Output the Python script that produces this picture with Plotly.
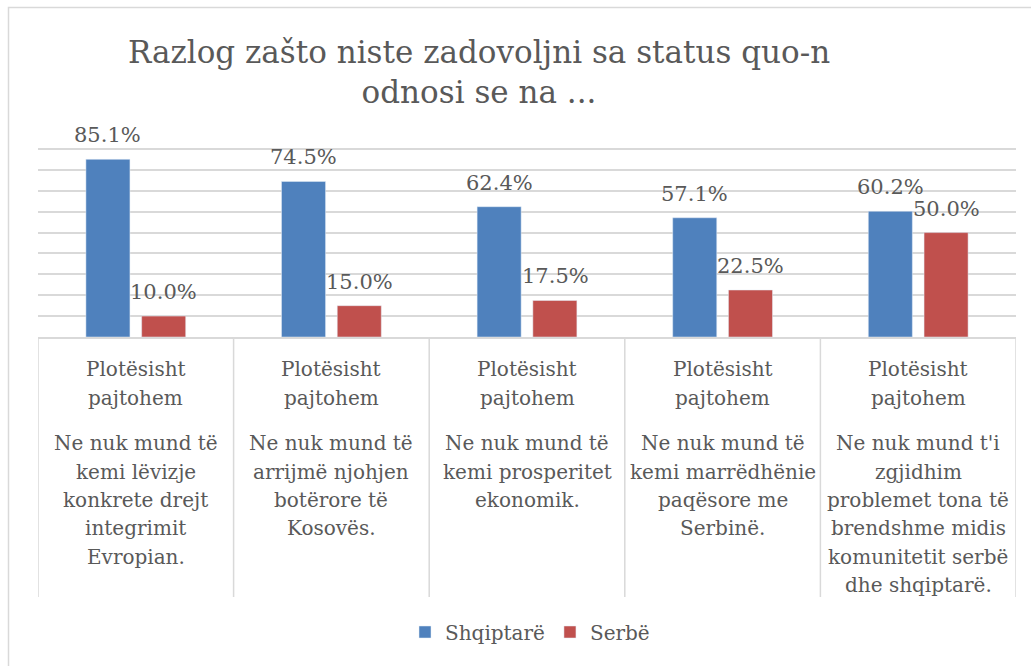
import plotly.graph_objects as go

# ---- data ----
categories = [
    "Ne nuk mund të kemi lëvizje konkrete drejt integrimit Evropian.",
    "Ne nuk mund të arrijmë njohjen botërore të Kosovës.",
    "Ne nuk mund të kemi prosperitet ekonomik.",
    "Ne nuk mund të kemi marrëdhënie paqësore me Serbinë.",
    "Ne nuk mund t'i zgjidhim problemet tona të brendshme midis komunitetit serbë dhe shqiptarë.",
]
header_lines = ["Plotësisht", "pajtohem"]
reason_lines = [
    ["Ne nuk mund të", "kemi lëvizje", "konkrete drejt", "integrimit", "Evropian."],
    ["Ne nuk mund të", "arrijmë njohjen", "botërore të", "Kosovës."],
    ["Ne nuk mund të", "kemi prosperitet", "ekonomik."],
    ["Ne nuk mund të", "kemi marrëdhënie", "paqësore me", "Serbinë."],
    ["Ne nuk mund t'i", "zgjidhim", "problemet tona të", "brendshme midis", "komunitetit serbë", "dhe shqiptarë."],
]
shqiptare = [85.1, 74.5, 62.4, 57.1, 60.2]
serbe = [10.0, 15.0, 17.5, 22.5, 50.0]
series_names = ["Shqiptarë", "Serbë"]
title_text = "Razlog zašto niste zadovoljni sa status quo-n<br>odnosi se na ..."

# ---- style ----
W, H = 1031, 666
ML, MR, MT, MB = 38, 15, 147, 329
PLOT_H = H - MT - MB
BLUE, RED = "#4F81BD", "#C0504D"
TXT = "#595959"
GRID = "#D9D9D9"
FONT = "DejaVu Serif"


def py(ypx):
    """pixel y (from top of figure) -> paper y"""
    return (H - MB - ypx) / PLOT_H


def px_x(xpx):
    return (xpx - ML) / (W - ML - MR)


fig = go.Figure()
fig.add_trace(go.Bar(x=categories, y=shqiptare, name=series_names[0], marker_color=BLUE))
fig.add_trace(go.Bar(x=categories, y=serbe, name=series_names[1], marker_color=RED))

annotations = []
SLOT_SHIFT = 28
# data labels
for vals, shift in ((shqiptare, -SLOT_SHIFT), (serbe, SLOT_SHIFT)):
    for c, v in zip(categories, vals):
        annotations.append(dict(
            x=c, y=v, xref="x", yref="y", text=f"{v:.1f}%", showarrow=False,
            xshift=shift, yanchor="bottom", yshift=10,
            font=dict(family=FONT, size=21, color=TXT)))

# category labels (multi-level)
LBL_OFF = 7
head_base = [375.7, 404.5]
reason_base0, pitch = 450.3, 28.3
for c, lines in zip(categories, reason_lines):
    for hb, t in zip(head_base, header_lines):
        annotations.append(dict(x=c, xref="x", yref="paper", y=py(hb - LBL_OFF), text=t,
                                showarrow=False, yanchor="middle",
                                font=dict(family=FONT, size=20, color=TXT)))
    for k, t in enumerate(lines):
        annotations.append(dict(x=c, xref="x", yref="paper", y=py(reason_base0 + k * pitch - LBL_OFF),
                                text=t, showarrow=False, yanchor="middle",
                                font=dict(family=FONT, size=20, color=TXT)))

shapes = []
# category box dividers
for i in range(len(categories) + 1):
    shapes.append(dict(type="line", xref="x", yref="paper", x0=i - 0.5, x1=i - 0.5,
                       y0=py(337), y1=py(597), line=dict(color=GRID, width=1.5)))
# outer chart border
shapes.append(dict(type="rect", xref="paper", yref="paper",
                   x0=px_x(8.5), x1=px_x(1045), y0=py(680), y1=py(7.5),
                   line=dict(color=GRID, width=1.5), fillcolor="rgba(0,0,0,0)", layer="below"))

fig.update_layout(
    width=W, height=H,
    margin=dict(l=ML, r=MR, t=MT, b=MB, autoexpand=False),
    paper_bgcolor="white", plot_bgcolor="white",
    font=dict(family=FONT, color=TXT),
    barmode="group", bargap=0.43, bargroupgap=0.21,
    title=dict(text=title_text, x=479 / W, xanchor="center", xref="container",
               y=1 - 63 / H, yanchor="top", yref="container",
               font=dict(family=FONT, size=31, color=TXT)),
    xaxis=dict(showticklabels=False, showline=True, linecolor=GRID, linewidth=1.5,
               range=[-0.5, len(categories) - 0.5], ticks="", showgrid=False),
    yaxis=dict(range=[0, 91], tick0=0, dtick=10, showticklabels=False, showgrid=True,
               gridcolor=GRID, gridwidth=1.5, zeroline=False, ticks=""),
    legend=dict(orientation="h", x=px_x(530), xanchor="center", y=py(632), yanchor="middle",
                font=dict(family=FONT, size=20, color=TXT), bgcolor="rgba(0,0,0,0)"),
    annotations=annotations,
    shapes=shapes,
    showlegend=True,
)

fig.write_html("out.html", config={"displayModeBar": False},
               post_script="document.body.style.margin='0';")
